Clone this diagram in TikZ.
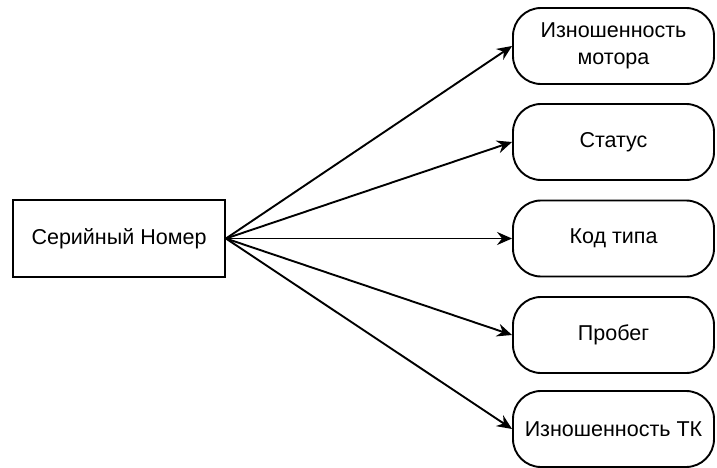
\documentclass[tikz,border=0pt]{standalone}
\usepackage{fontspec}
\setmainfont{Liberation Sans}
\usetikzlibrary{arrows.meta}
\begin{document}
\begin{tikzpicture}[x=1pt,y=-1pt,
  every node/.style={font=\fontsize{21.5}{27}\selectfont, align=center, line width=1.9pt},
  keybox/.style={draw, rectangle, minimum width=212pt, minimum height=77pt, inner sep=0pt},
  attrbox/.style={draw, rectangle, rounded corners=28pt, minimum width=201pt, minimum height=76pt, inner sep=0pt},
  link/.style={line width=1.9pt, -{Stealth[length=15pt,width=13pt,inset=5pt]}}]
  \useasboundingbox (0,0) rectangle (717,468);
  \node[keybox] (key) at (119,238.5) {Серийный Номер};
  \node[attrbox] (a1) at (613.5,46) {Изношенность\\мотора};
  \node[attrbox] (a2) at (613.5,142) {Статус};
  \node[attrbox] (a3) at (613.5,238.5) {Код типа};
  \node[attrbox] (a4) at (613.5,335) {Пробег};
  \node[attrbox] (a5) at (613.5,429) {Изношенность ТК};
  \foreach \t in {a1,a2,a3,a4,a5}
    \draw[link] (key.east) -- (\t.west);
\end{tikzpicture}
\end{document}
